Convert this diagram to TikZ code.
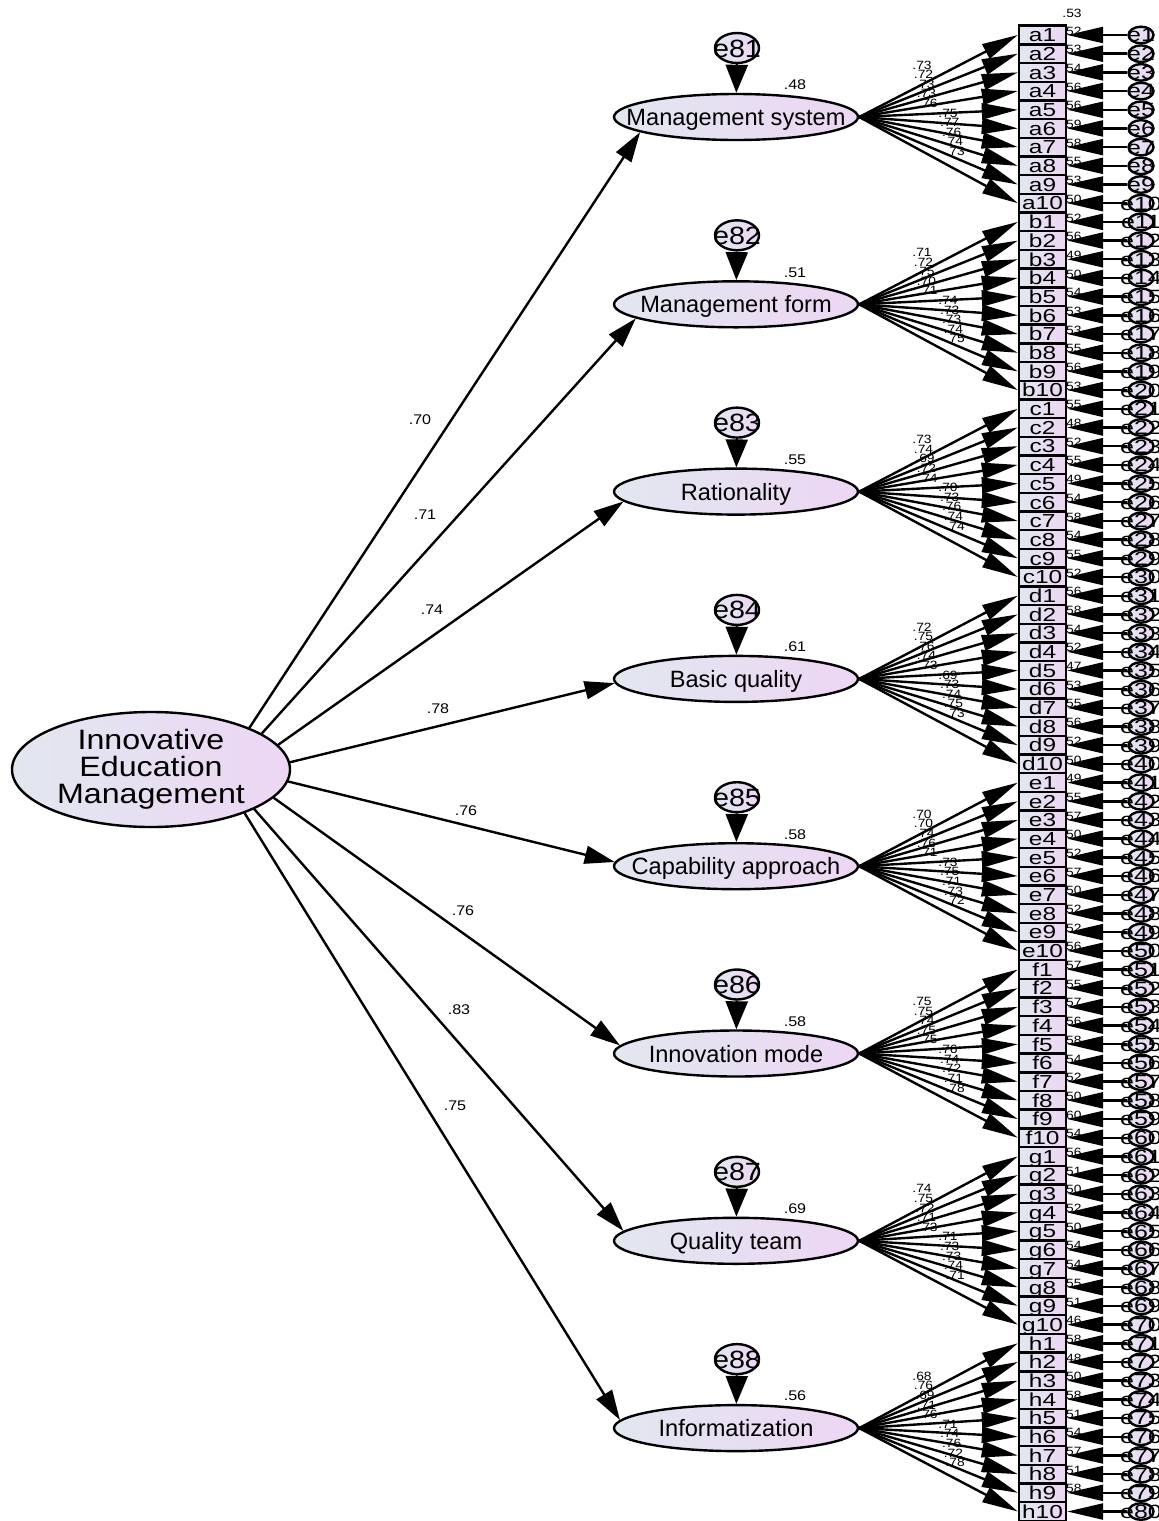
\documentclass[tikz,border=0pt]{standalone}
\usepackage{fontspec}
\setmainfont{Liberation Sans}
\newfontfamily\wideA[FakeStretch=1.3]{Liberation Sans}
\newfontfamily\wideB[FakeStretch=1.15]{Liberation Sans}
\usetikzlibrary{arrows.meta,shapes.geometric}
\definecolor{fillL}{RGB}{226,231,240}
\definecolor{fillR}{RGB}{237,214,244}
% text that does not change the size of its node
\newcommand\ctr[1]{\makebox[0pt]{\smash{\raisebox{-.36em}{#1}}}}
% loadings and squared correlations per group
\def\loada{.73,.72,.73,.73,.76,.75,.77,.76,.74,.73}
\def\loadb{.71,.72,.75,.70,.71,.74,.73,.73,.74,.75}
\def\loadc{.73,.74,.69,.72,.74,.70,.73,.76,.74,.74}
\def\loadd{.72,.75,.76,.74,.73,.69,.73,.74,.75,.73}
\def\loade{.70,.70,.74,.76,.71,.73,.75,.71,.73,.72}
\def\loadf{.75,.75,.74,.75,.75,.76,.74,.72,.71,.78}
\def\loadg{.74,.75,.72,.71,.73,.71,.73,.73,.74,.71}
\def\loadh{.68,.76,.69,.71,.76,.71,.74,.76,.72,.78}
\def\rsqa{.52,.53,.54,.56,.56,.59,.58,.55,.53,.50}
\def\rsqb{.52,.56,.49,.50,.54,.53,.53,.55,.56,.53}
\def\rsqc{.55,.48,.52,.55,.49,.54,.58,.54,.55,.52}
\def\rsqd{.56,.58,.54,.52,.47,.53,.55,.56,.52,.50}
\def\rsqe{.49,.55,.57,.50,.52,.57,.50,.52,.52,.56}
\def\rsqf{.57,.55,.57,.56,.58,.54,.52,.50,.60,.54}
\def\rsqg{.56,.51,.50,.52,.50,.54,.54,.55,.51,.46}
\def\rsqh{.58,.48,.50,.58,.51,.54,.57,.51,.58}

\begin{document}
\begin{tikzpicture}[x=0.5pt,y=-0.5pt,
  lat/.style={ellipse,draw,line width=1.2pt,left color=fillL,right color=fillR,inner sep=0pt},
  fac/.style={lat,minimum width=122pt,minimum height=23pt,font=\fontsize{11.8}{13}\selectfont},
  dist/.style={lat,minimum width=22pt,minimum height=15pt,font=\wideB\fontsize{12.5}{13}\selectfont},
  err/.style={lat,minimum width=12.5pt,minimum height=8.3pt,font=\wideA\fontsize{9.6}{10}\selectfont},
  obs/.style={rectangle,draw,line width=1.2pt,left color=fillL,right color=fillR,
    minimum width=23.5pt,minimum height=9.35pt,inner sep=0pt,font=\wideA\fontsize{9.4}{10}\selectfont},
  bigtxt/.style={align=center,inner sep=0pt,font=\wideB\fontsize{14}{13.5}\selectfont},
  num/.style={inner sep=0pt,font=\wideB\fontsize{6}{7}\selectfont},
  numb/.style={inner sep=0pt,font=\wideB\fontsize{7}{8}\selectfont},
  load/.style={line width=1.2pt,-{Triangle[length=18pt,width=8pt]}},
  pathar/.style={line width=1.2pt,-{Triangle[length=15pt,width=9pt]}},
  distarr/.style={line width=1.2pt,-{Triangle[length=14pt,width=11pt]}}]
\useasboundingbox (0,0) rectangle (1159,1521);

\node[lat,minimum width=139pt,minimum height=57.5pt] (IEM) at (151,769.5) {};
\node[bigtxt] (IEMtext) at (IEM) {Innovative\\Education\\Management};
\node[num] (rtop) at (1072,13) {.53};

\foreach \g/\fname/\fr/\gl/\sa/\ea/\lx/\ly [count=\i] in {
  a/Management system/.48/.70/23/189/420/420,
  b/Management form/.51/.71/18/188/425/515,
  c/Rationality/.55/.74/11.7/185/432/610,
  d/Basic quality/.61/.78/3/182/438/709,
  e/Capability approach/.58/.76/355.5/178/466/811,
  f/Innovation mode/.58/.76/347.5/176/463/911,
  g/Quality team/.69/.83/339.4/175/459/1010,
  h/Informatization/.56/.75/335.4/176/455/1106}
{
  \pgfmathsetmacro\fy{117+(\i-1)*187.3}
  \node[fac] (fac\i) at (736,\fy) {\ctr{\fname}};
  \node[dist] (dist\i) at (737,\fy-69) {\ctr{e8\i}};
  \node[numb] (fr\i) at (795,\fy-32) {\fr};
  \draw[distarr] (dist\i) -- (fac\i);
  \draw[pathar] (IEM.\sa) -- (fac\i.\ea);
  \node[numb] (gl\i) at (\lx,\ly) {\gl};
  \expandafter\let\expandafter\curload\csname load\g\endcsname
  \expandafter\let\expandafter\currsq\csname rsq\g\endcsname
  \foreach \w [count=\j] in \currsq {
    \pgfmathsetmacro\ry{35+((\i-1)*10+\j-1)*18.69-4}
    \node[num,anchor=west] (rs\i-\j) at (1062,\ry) {\w};
  }
  \foreach \v [count=\j] in \curload {
    \pgfmathtruncatemacro\k{(\i-1)*10+\j}
    \pgfmathsetmacro\by{35+(\k-1)*18.69}
    \pgfmathsetmacro\lxx{\j<6 ? 922+(\j-1)*1.5 : 948+(\j-6)*1.8}
    \pgfmathsetmacro\lyy{\fy-52+(\j-1)*9.6}
    \node[obs] (\g\j) at (1042.5,\by) {\ctr{\g\j}};
    \node[err] (eps\k) at (1141,\by) {\ctr{e\k}};
    \node[num] (ld\k) at (\lxx,\lyy) {\v};
    \draw[load] (fac\i.east) -- (\g\j.west);
    \draw[load] (eps\k) -- (\g\j);
  }
}
\end{tikzpicture}
\end{document}
